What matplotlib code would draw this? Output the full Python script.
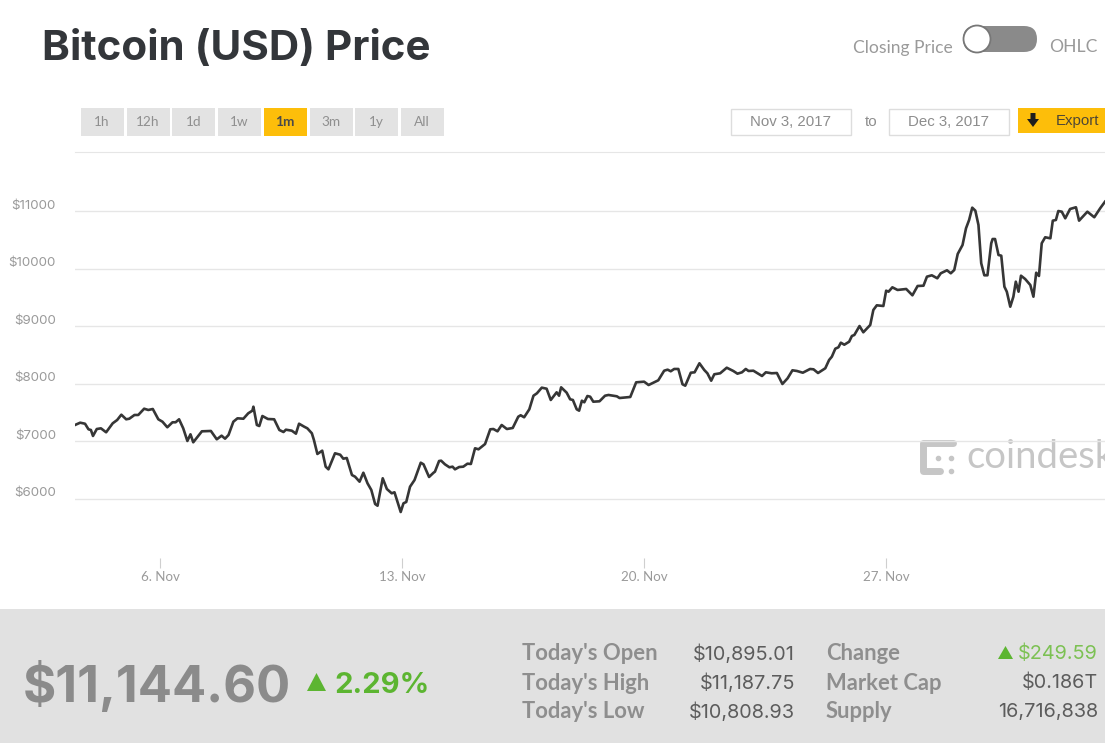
"""
Bitcoin (USD) price page, one month closing price view.
"""
import matplotlib
matplotlib.use('Agg')
import matplotlib.pyplot as plt
from matplotlib.patches import Rectangle, FancyBboxPatch, Circle, Polygon

# day of the month counted from 1 Nov (values over 30 are December)
days = [
    3.54, 3.69, 3.83, 3.93, 4.00, 4.06, 4.17, 4.29, 4.44, 4.63, 4.76, 4.88, 5.02, 5.11, 5.26, 5.37,
    5.54, 5.66, 5.79, 5.95, 6.07, 6.21, 6.36, 6.45, 6.55, 6.67, 6.79, 6.88, 6.96, 7.21, 7.47, 7.64,
    7.78, 7.88, 7.98, 8.12, 8.24, 8.41, 8.55, 8.67, 8.70, 8.80, 8.87, 8.96, 9.12, 9.30, 9.45, 9.57,
    9.64, 9.81, 9.93, 10.02, 10.17, 10.26, 10.39, 10.45, 10.55, 10.69, 10.79, 10.87, 11.06, 11.21,
    11.30, 11.40, 11.55, 11.64, 11.77, 11.88, 12.00, 12.11, 12.22, 12.29, 12.44, 12.56, 12.70, 12.78,
    12.88, 12.96, 13.04, 13.12, 13.23, 13.36, 13.54, 13.62, 13.78, 13.91, 13.95, 14.07, 14.13, 14.24,
    14.37, 14.46, 14.53, 14.65, 14.77, 14.89, 14.99, 15.11, 15.21, 15.40, 15.55, 15.64, 15.76, 15.88,
    16.03, 16.20, 16.36, 16.43, 16.53, 16.68, 16.80, 16.90, 17.04, 17.18, 17.30, 17.47, 17.54, 17.60,
    17.76, 17.86, 17.94, 18.05, 18.12, 18.20, 18.27, 18.36, 18.44, 18.53, 18.71, 18.87, 18.97, 19.21,
    19.29, 19.60, 19.77, 20.00, 20.13, 20.41, 20.58, 20.68, 20.77, 20.87, 20.99, 21.11, 21.19, 21.35,
    21.46, 21.60, 21.74, 21.83, 21.94, 22.03, 22.20, 22.39, 22.58, 22.70, 22.83, 22.94, 23.02, 23.16,
    23.41, 23.52, 23.69, 23.84, 24.00, 24.15, 24.29, 24.42, 24.59, 24.80, 24.90, 25.03, 25.24, 25.35,
    25.43, 25.53, 25.62, 25.69, 25.79, 25.93, 26.01, 26.08, 26.23, 26.34, 26.54, 26.63, 26.73, 26.92,
    27.00, 27.07, 27.18, 27.33, 27.58, 27.76, 27.91, 28.08, 28.18, 28.32, 28.48, 28.58, 28.76, 28.87,
    28.97, 29.07, 29.21, 29.31, 29.40, 29.49, 29.58, 29.67, 29.75, 29.84, 29.93, 30.04, 30.08, 30.15,
    30.25, 30.33, 30.42, 30.49, 30.59, 30.68, 30.75, 30.83, 30.90, 31.02, 31.17, 31.26, 31.34, 31.42,
    31.50, 31.60, 31.75, 31.82, 31.91, 31.98, 32.08, 32.18, 32.32, 32.49, 32.58, 32.82, 33.02, 33.19,
    33.33,
]
prices = [
    7287, 7327, 7309, 7212, 7200, 7096, 7217, 7229, 7160, 7316, 7374, 7466, 7386, 7396, 7461, 7461,
    7570, 7548, 7565, 7386, 7344, 7247, 7334, 7334, 7386, 7229, 7009, 7125, 6986, 7177, 7183, 7038,
    7101, 7049, 7113, 7344, 7403, 7396, 7490, 7536, 7605, 7287, 7269, 7443, 7391, 7386, 7200, 7165,
    7205, 7188, 7136, 7309, 7257, 7229, 7143, 7026, 6783, 6840, 6562, 6516, 6795, 6770,
    6701, 6713, 6417, 6388, 6301, 6457, 6273, 6157, 5913, 5883, 6360, 6174, 6099, 6117,
    5925, 5774, 5925, 5948, 6214, 6330, 6631, 6603, 6383, 6457, 6475, 6661, 6666, 6603,
    6551, 6562, 6516, 6556, 6562, 6614, 6609, 6882, 6864, 6956, 7212, 7217, 7177, 7287,
    7217, 7235, 7431, 7456, 7421, 7560, 7796, 7838, 7936, 7918, 7722, 7855, 7796, 7942,
    7849, 7734, 7722, 7560, 7536, 7709, 7682, 7791, 7779, 7692, 7699, 7796, 7809, 7786,
    7756, 7774, 8029, 8040, 7982, 8064, 8231, 8249, 8221, 8261, 8261, 7995, 7970, 8196,
    8203, 8360, 8243, 8186, 8057, 8169, 8186, 8283, 8226, 8179, 8203, 8261, 8226, 8231,
    8139, 8203, 8186, 8191, 8000, 8099, 8238, 8226, 8196, 8261, 8255, 8191, 8273, 8417,
    8475, 8614, 8638, 8718, 8683, 8735, 8835, 8852, 9008, 8899, 9026, 9287, 9368, 9356,
    9622, 9605, 9681, 9635, 9652, 9542, 9704, 9709, 9866, 9890, 9838, 9925, 9977, 9925,
    9982, 10261, 10417, 10707, 10852, 11066, 11014, 10765, 10099, 9890, 9890, 10447, 10521, 10521,
    10243, 10231, 9692, 9605, 9344, 9518, 9779, 9605, 9883, 9826, 9721, 9518, 9935, 9878,
    10447, 10551, 10533, 10840, 10852, 11008, 10996, 10881, 11043, 11073, 10840, 10996, 10899, 11055,
    11170,
]

y_ticks = [6000, 7000, 8000, 9000, 10000, 11000]
y_labels = ['$6000', '$7000', '$8000', '$9000', '$10000', '$11000']
x_ticks = [6, 13, 20, 27]
x_labels = ['6. Nov', '13. Nov', '20. Nov', '27. Nov']

range_buttons = ['1h', '12h', '1d', '1w', '1m', '3m', '1y', 'All']
active_button = '1m'

stat_names_left = ["Today's Open", "Today's High", "Today's Low"]
stat_values_left = ['$10,895.01', '$11,187.75', '$10,808.93']
stat_names_right = ['Change', 'Market Cap', 'Supply']
stat_values_right = ['$249.59', '$0.186T', '16,716,838']

W, H = 1105, 743
UI_FONT = 'Lato'
NUM_FONT = 'Inter'
GREY_TEXT = '#9a9a9a'
YELLOW = '#fdbe0a'
PANEL = '#e1e1e1'
GRID = '#e6e6e6'


def px(x, y):
    """Axes box given in pixels from the top left corner of the page."""
    return x / W, 1 - y / H


fig = plt.figure(figsize=(W / 100, H / 100), dpi=100, facecolor='white')

# page furniture is drawn on a full page axes measured in pixels
page = fig.add_axes([0, 0, 1, 1], zorder=1)
page.set_xlim(0, W)
page.set_ylim(H, 0)
page.axis('off')

# title and toggle
page.text(42, 60, 'Bitcoin (USD) Price', fontsize=30.3, fontweight='bold', family=NUM_FONT,
          color='#33363a', va='baseline', ha='left')
page.text(953, 47.5, 'Closing Price', fontsize=12.6, family=UI_FONT, color=GREY_TEXT, va='center', ha='right')
page.text(1049, 47.5, 'OHLC', fontsize=12.6, family=UI_FONT, color=GREY_TEXT, va='center', ha='left')
page.add_patch(FancyBboxPatch((963, 26), 74, 26, boxstyle='round,pad=0,rounding_size=13',
                              fc='#8a8a8a', ec='none'))
page.add_patch(Circle((977, 39), 13.5, fc='white', ec='#777777', lw=1.3, zorder=3))

# range buttons
for i, name in enumerate(range_buttons):
    left = 81 + i * 45.7
    is_active = name == active_button
    page.add_patch(Rectangle((left, 108), 43, 28, fc=YELLOW if is_active else '#e3e3e3', ec='none'))
    page.text(left + 21, 122, name, fontsize=9.8, family=UI_FONT, ha='center', va='center',
              color='#4a4a4a' if is_active else '#8f8f8f', fontweight='bold' if is_active else 'normal')

# date range
for left, label in [(731, 'Nov 3, 2017'), (889, 'Dec 3, 2017')]:
    page.add_patch(Rectangle((left, 108.5), 120, 26.5, fc='white', ec='#dddddd', lw=1))
    page.text(left + 60, 122, label, fontsize=10.8, family='Liberation Sans', color='#8d8d8d',
              ha='center', va='center')
page.text(871, 122, 'to', fontsize=10.8, family='Liberation Sans', color='#8d8d8d', ha='center', va='center')

# export button
page.add_patch(Rectangle((1018, 108), 88, 24.5, fc=YELLOW, ec='none'))
page.add_patch(Polygon([(1030.5, 113), (1035.5, 113), (1035.5, 119), (1039, 119), (1033, 127),
                        (1027, 119), (1030.5, 119)], fc='#1d1d1d', ec='none'))
page.text(1056, 120.5, 'Export', fontsize=10.8, family='Liberation Sans', color='#4d4636', ha='left', va='center')

# coindesk watermark
logo = dict(color='#c6c6c6', lw=5, solid_capstyle='round', zorder=0)
page.plot([953, 923, 923, 940], [443, 443, 471, 471], **logo)
page.plot([938, 951, 951], [458, 458, 471], linestyle='none', marker='o', ms=3, color='#c6c6c6', zorder=0)
page.text(966, 457, 'coindesk', fontsize=27.5, family=UI_FONT, color='#c6c6c6', va='center', ha='left',
          zorder=0)

# stats panel
page.add_patch(Rectangle((0, 609), W, H - 609, fc=PANEL, ec='none'))
page.text(23, 702, '$11,144.60', fontsize=36.5, fontweight='bold', family=NUM_FONT, color='#8b8b8b',
          va='baseline', ha='left')
page.add_patch(Polygon([(307, 691), (316.5, 673), (326, 691)], fc='#5cb531', ec='none'))
page.text(334, 693, '2.29%', fontsize=21, fontweight='bold', family=NUM_FONT, color='#5cb531',
          va='baseline', ha='left')

for i, row_y in enumerate([654, 683, 712]):
    page.text(522, row_y, stat_names_left[i], fontsize=15.8, fontweight='bold', family=UI_FONT,
              color='#8e8e8e', va='center', ha='left')
    page.text(795, row_y, stat_values_left[i], fontsize=14.3, family=NUM_FONT, color='#5c5c5c',
              va='center', ha='right')
    page.text(826, row_y, stat_names_right[i], fontsize=15.8, fontweight='bold', family=UI_FONT,
              color='#8e8e8e', va='center', ha='left')
    page.text(1098, row_y, stat_values_right[i], fontsize=14.3, family=NUM_FONT,
              color='#7cc153' if i == 0 else '#5c5c5c', va='center', ha='right')
page.add_patch(Polygon([(998, 659), (1005.5, 646), (1013, 659)], fc='#5cb531', ec='none'))

# price chart
plot_left, plot_bottom = px(75, 558)
plot_right, plot_top = px(1105, 152)
ax = fig.add_axes([plot_left, plot_bottom, plot_right - plot_left, plot_top - plot_bottom], zorder=2)
ax.patch.set_alpha(0)
ax.plot(days, prices, color='#363636', lw=1.9, solid_joinstyle='round')
ax.set_xlim(3.54, 33.33)
ax.set_ylim(4974, 12034)

ax.set_yticks(y_ticks)
ax.set_yticklabels([])
ax.tick_params(axis='y', length=0)
ax.grid(True, axis='y', color=GRID, lw=1)
ax.set_axisbelow(True)
for value, label in zip(y_ticks, y_labels):
    ax.annotate(label, xy=(0, value), xycoords=ax.get_yaxis_transform(), xytext=(-19, 5.5),
                textcoords='offset pixels', ha='right', va='center', fontsize=9.6, family=NUM_FONT,
                color=GREY_TEXT)

ax.set_xticks(x_ticks)
ax.set_xticklabels(x_labels, fontsize=9.6, family=UI_FONT, color=GREY_TEXT)
ax.tick_params(axis='x', length=7.2, width=0.8, color='#cfcfcf', pad=2)
for name, side in ax.spines.items():
    side.set_visible(name == 'top')
ax.spines['top'].set_color(GRID)

plt.savefig('out.png', dpi=100)
plt.close()
